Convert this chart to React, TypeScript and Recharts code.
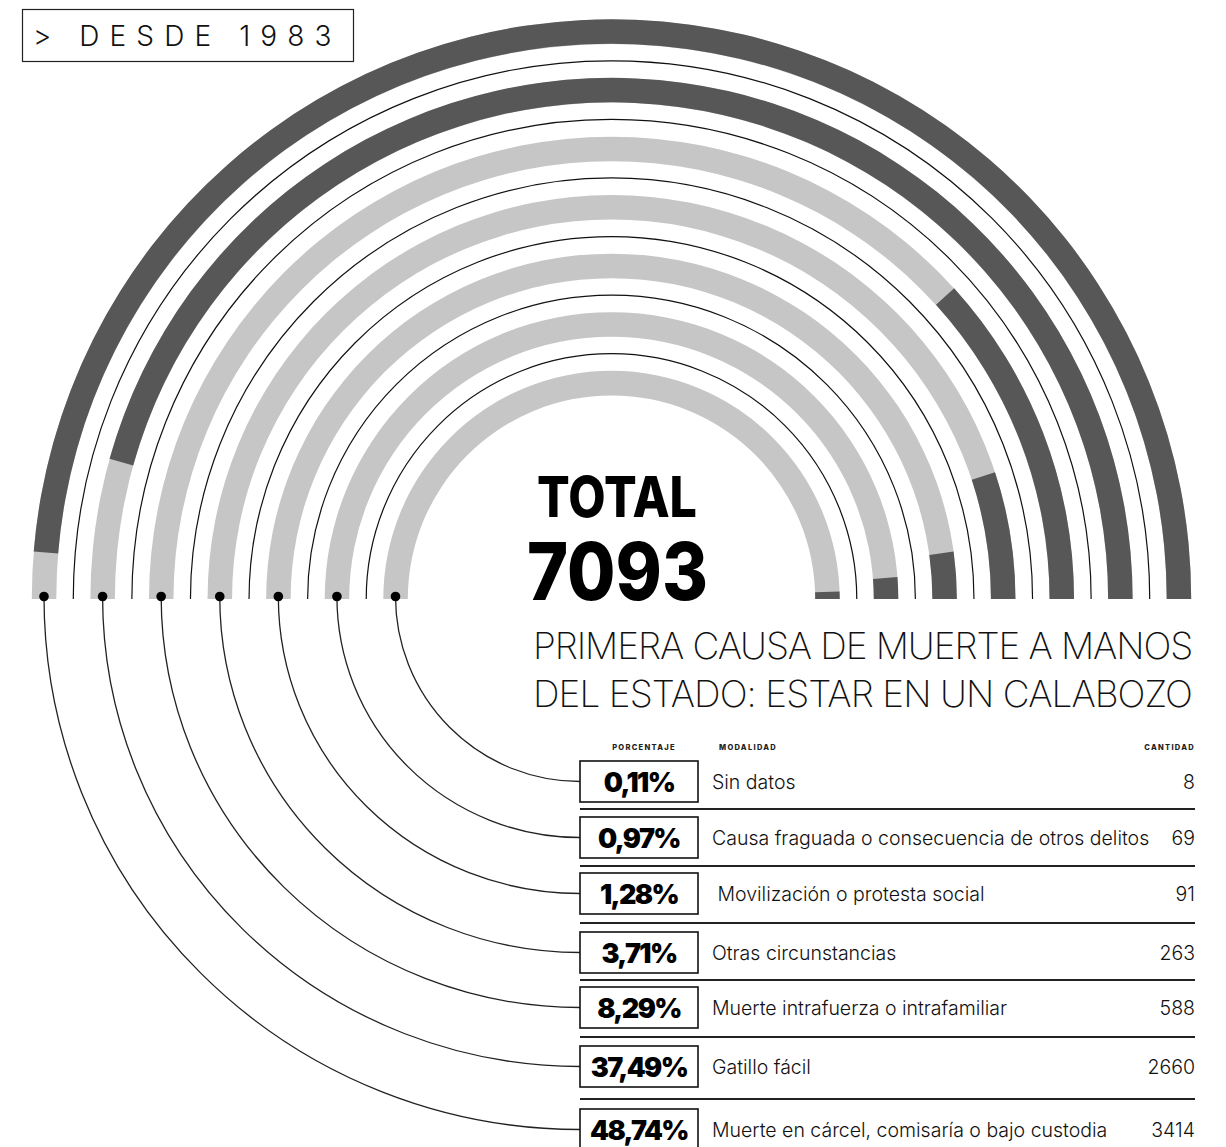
import React from 'react'
import { RadialBarChart, RadialBar, PolarAngleAxis, PolarGrid } from 'recharts'

// rows from the innermost ring to the outermost one
const MODALIDADES = [
  'Sin datos',
  'Causa fraguada o consecuencia de otros delitos',
  ' Movilización o protesta social',
  'Otras circunstancias',
  'Muerte intrafuerza o intrafamiliar',
  'Gatillo fácil',
  'Muerte en cárcel, comisaría o bajo custodia',
]
const PORCENTAJES = ['0,11%', '0,97%', '1,28%', '3,71%', '8,29%', '37,49%', '48,74%']
const CANTIDADES = [8, 69, 91, 263, 588, 2660, 3414]
// dark arc of each ring, in degrees of the half circle
const ARCO = [1.9, 4.4, 7.9, 18.3, 42.2, 164.4, 175.3]
const TOTAL = 7093

const W = 1226
const H = 1147
const CX = 611.5
const CY = 599
const INNER = 186.7
const OUTER = 596.8
const BAND = (OUTER - INNER) / MODALIDADES.length

const ROW_TOP = [761, 817, 873, 932, 987, 1046, 1109]
const ROW_H = 41
const SEPARATORS = [809, 866, 923, 980, 1037, 1099]
const BOX_L = 580
const BOX_R = 698
const RIGHT = 1195

const DARK = '#575757'
const LIGHT = '#c6c6c6'
const FONT = 'Inter, "Noto Sans", sans-serif'

const chartData = MODALIDADES.map((name, i) => ({ name, arco: ARCO[i] }))
const gridRadii = MODALIDADES.slice(1).map((_, i) => INNER + (i + 1) * BAND)

export default function App() {
  return (
    <div style={{ position: 'absolute', left: 0, top: 0, width: W, height: H, background: '#fff', fontFamily: FONT }}>
      <style>{'body{margin:0}'}</style>
      <div style={{ position: 'absolute', left: 0, top: 0 }}>
        <RadialBarChart
          width={W}
          height={CY}
          cx={CX}
          cy={CY}
          innerRadius={INNER}
          outerRadius={OUTER}
          startAngle={0}
          endAngle={180}
          data={chartData}
          barSize={24.5}
          margin={{ top: 0, right: 0, bottom: 0, left: 0 }}
        >
          <PolarAngleAxis type="number" domain={[0, 180]} tick={false} axisLine={false} />
          <PolarGrid gridType="circle" radialLines={false} polarRadius={gridRadii} stroke="#111" strokeWidth={1.2} />
          <RadialBar
            dataKey="arco"
            fill={DARK}
            stroke="none"
            background={{ fill: LIGHT }}
            isAnimationActive={false}
          />
        </RadialBarChart>
      </div>

      <svg width={W} height={H} style={{ position: 'absolute', left: 0, top: 0, pointerEvents: 'none' }}>
        {/* header tag */}
        <rect x={22.5} y={9.5} width={331} height={52} fill="none" stroke="#222" strokeWidth={1.2} />
        <text x={33} y={46} fontSize={28} fontWeight={300} letterSpacing={10.1} fill="#111" style={{ whiteSpace: 'pre' }}>
          {'> DESDE 1983'}
        </text>

        {/* total */}
        <text x={537} y={517} fontSize={57} fontWeight={800} textLength={160} lengthAdjust="spacingAndGlyphs" fill="#000">
          TOTAL
        </text>
        <text x={527} y={600} fontSize={80} fontWeight={800} textLength={181} lengthAdjust="spacingAndGlyphs" fill="#000">
          {TOTAL}
        </text>

        <text x={533} y={659} fontSize={37} fontWeight={200} letterSpacing={-1.1} fill="#111">
          PRIMERA CAUSA DE MUERTE A MANOS
        </text>
        <text x={533} y={707} fontSize={37} fontWeight={200} letterSpacing={-0.95} fill="#111">
          DEL ESTADO: ESTAR EN UN CALABOZO
        </text>

        {/* table header */}
        <text x={644} y={750} textAnchor="middle" fontSize={7.5} fontWeight={800} letterSpacing={1.3} fill="#222">
          PORCENTAJE
        </text>
        <text x={719} y={750} fontSize={7.5} fontWeight={800} letterSpacing={1.3} fill="#222">
          MODALIDAD
        </text>
        <text x={RIGHT} y={750} textAnchor="end" fontSize={7.5} fontWeight={800} letterSpacing={1.3} fill="#222">
          CANTIDAD
        </text>

        {SEPARATORS.map((y) => (
          <line key={y} x1={BOX_L} x2={RIGHT} y1={y} y2={y} stroke="#222" strokeWidth={2} />
        ))}

        {MODALIDADES.map((m, i) => {
          const yc = ROW_TOP[i] + ROW_H / 2
          const r = INNER + (i + 0.5) * BAND
          const dx = CX - r
          const dy = 596.5
          return (
            <g key={m}>
              <path
                d={`M ${dx} ${dy} A ${BOX_L - dx} ${yc - dy} 0 0 0 ${BOX_L} ${yc}`}
                fill="none"
                stroke="#222"
                strokeWidth={1.3}
              />
              <circle cx={dx} cy={dy} r={4.8} fill="#000" />
              <rect x={BOX_L} y={ROW_TOP[i]} width={BOX_R - BOX_L} height={ROW_H} fill="#fff" stroke="#111" strokeWidth={1.6} />
              <text x={(BOX_L + BOX_R) / 2} y={yc + 10} textAnchor="middle" fontSize={27} fontWeight={900} letterSpacing={-1.6} fill="#000">
                {PORCENTAJES[i]}
              </text>
              <text x={712} y={yc + 7} fontSize={19.5} fontWeight={300} fill="#111" style={{ whiteSpace: 'pre' }}>
                {m}
              </text>
              <text x={RIGHT} y={yc + 7} textAnchor="end" fontSize={19.5} fontWeight={300} fill="#111">
                {CANTIDADES[i]}
              </text>
            </g>
          )
        })}
      </svg>
    </div>
  )
}
